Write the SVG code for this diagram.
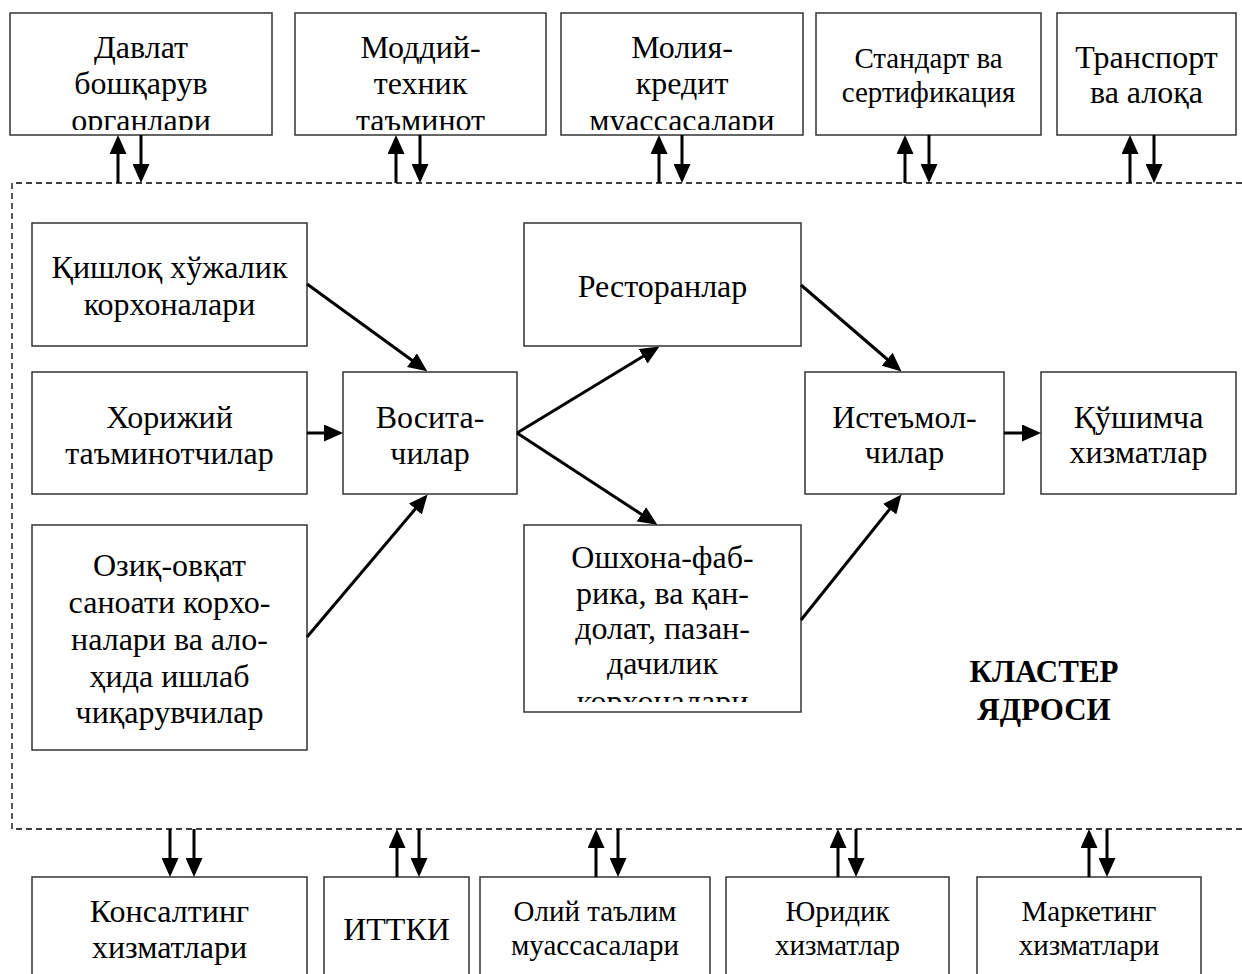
<svg xmlns="http://www.w3.org/2000/svg" width="1242" height="974" viewBox="0 0 1242 974">
  <style>
    .box { fill: #fff; stroke: #333; stroke-width: 1.5; }
    .t { font-family: "Liberation Serif", "Times New Roman", serif; font-size: 32px; text-anchor: middle; fill: #000; }
    .s { font-size: 29px; }
    .b { font-weight: bold; font-size: 31px; }
    .conn { stroke: #000; stroke-width: 3; fill: none; marker-end: url(#ah); }
    .frame { fill: none; stroke: #000; stroke-width: 1.3; stroke-dasharray: 6 4; }
  </style>
  <defs>
    <marker id="ah" markerUnits="userSpaceOnUse" markerWidth="19" markerHeight="17" refX="15" refY="8.5" orient="auto">
      <path d="M0,0 L19,8.5 L0,17 z" fill="#000"/>
    </marker>
    <clipPath id="clipTop"><rect x="0" y="13" width="1242" height="117"/></clipPath>
    <clipPath id="clipKitchen"><rect x="524" y="525" width="277" height="177"/></clipPath>
  </defs>

  <rect width="1242" height="974" fill="#fff"/>

  <!-- cluster core frame (open on the right) -->
  <path class="frame" d="M1242,183 H12 V829 H1242"/>

  <!-- top row -->
  <g id="n-davlat">
    <rect class="box" x="10" y="13" width="262" height="122"/>
    <text class="t" clip-path="url(#clipTop)"><tspan x="141" y="58">Давлат</tspan><tspan x="141" y="94">бошқарув</tspan><tspan x="141" y="131">органлари</tspan></text>
  </g>
  <g id="n-moddiy">
    <rect class="box" x="295" y="13" width="251" height="122"/>
    <text class="t" clip-path="url(#clipTop)"><tspan x="420.5" y="58">Моддий-</tspan><tspan x="420.5" y="94">техник</tspan><tspan x="420.5" y="131">таъминот</tspan></text>
  </g>
  <g id="n-moliya">
    <rect class="box" x="561" y="13" width="242" height="122"/>
    <text class="t" clip-path="url(#clipTop)"><tspan x="682" y="58">Молия-</tspan><tspan x="682" y="94">кредит</tspan><tspan x="682" y="131">муассасалари</tspan></text>
  </g>
  <g id="n-standart">
    <rect class="box" x="816" y="13" width="225" height="122"/>
    <text class="t s"><tspan x="928.5" y="68">Стандарт ва</tspan><tspan x="928.5" y="102">сертификация</tspan></text>
  </g>
  <g id="n-transport">
    <rect class="box" x="1057" y="13" width="179" height="122"/>
    <text class="t"><tspan x="1146.5" y="68">Транспорт</tspan><tspan x="1146.5" y="103">ва алоқа</tspan></text>
  </g>

  <!-- cluster core -->
  <g id="n-qishloq">
    <rect class="box" x="32" y="223" width="275" height="123"/>
    <text class="t"><tspan x="169.5" y="278">Қишлоқ хўжалик</tspan><tspan x="169.5" y="315">корхоналари</tspan></text>
  </g>
  <g id="n-xorijiy">
    <rect class="box" x="32" y="372" width="275" height="122"/>
    <text class="t"><tspan x="169.5" y="428">Хорижий</tspan><tspan x="169.5" y="464">таъминотчилар</tspan></text>
  </g>
  <g id="n-oziq">
    <rect class="box" x="32" y="525" width="275" height="225"/>
    <text class="t"><tspan x="169.5" y="576">Озиқ-овқат</tspan><tspan x="169.5" y="613">саноати корхо-</tspan><tspan x="169.5" y="650">налари ва ало-</tspan><tspan x="169.5" y="687">ҳида ишлаб</tspan><tspan x="169.5" y="723">чиқарувчилар</tspan></text>
  </g>
  <g id="n-vosita">
    <rect class="box" x="343" y="372" width="174" height="122"/>
    <text class="t"><tspan x="430" y="428">Восита-</tspan><tspan x="430" y="464">чилар</tspan></text>
  </g>
  <g id="n-restoran">
    <rect class="box" x="524" y="223" width="277" height="123"/>
    <text class="t"><tspan x="662.5" y="297">Ресторанлар</tspan></text>
  </g>
  <g id="n-oshxona">
    <rect class="box" x="524" y="525" width="277" height="187"/>
    <text class="t" clip-path="url(#clipKitchen)"><tspan x="662.5" y="568">Ошхона-фаб-</tspan><tspan x="662.5" y="604">рика, ва қан-</tspan><tspan x="662.5" y="639">долат, пазан-</tspan><tspan x="662.5" y="674">дачилик</tspan><tspan x="662.5" y="712">корхоналари</tspan></text>
  </g>
  <g id="n-isteymol">
    <rect class="box" x="805" y="372" width="199" height="122"/>
    <text class="t"><tspan x="904.5" y="428">Истеъмол-</tspan><tspan x="904.5" y="463">чилар</tspan></text>
  </g>
  <g id="n-qoshimcha">
    <rect class="box" x="1041" y="372" width="195" height="122"/>
    <text class="t"><tspan x="1138.5" y="428">Қўшимча</tspan><tspan x="1138.5" y="463">хизматлар</tspan></text>
  </g>
  <g id="n-label">
    <text class="t b"><tspan x="1044" y="682">КЛАСТЕР</tspan><tspan x="1044" y="720">ЯДРОСИ</tspan></text>
  </g>

  <!-- bottom row (boxes run past the lower edge) -->
  <g id="n-konsalting">
    <rect class="box" x="32" y="877" width="275" height="120"/>
    <text class="t"><tspan x="169.5" y="922">Консалтинг</tspan><tspan x="169.5" y="958">хизматлари</tspan></text>
  </g>
  <g id="n-ittki">
    <rect class="box" x="324" y="877" width="145" height="120"/>
    <text class="t"><tspan x="396.5" y="940">ИТТКИ</tspan></text>
  </g>
  <g id="n-oliy">
    <rect class="box" x="480" y="877" width="230" height="120"/>
    <text class="t s"><tspan x="595" y="921">Олий таълим</tspan><tspan x="595" y="955">муассасалари</tspan></text>
  </g>
  <g id="n-yuridik">
    <rect class="box" x="726" y="877" width="223" height="120"/>
    <text class="t s"><tspan x="837.5" y="921">Юридик</tspan><tspan x="837.5" y="955">хизматлар</tspan></text>
  </g>
  <g id="n-marketing">
    <rect class="box" x="977" y="877" width="224" height="120"/>
    <text class="t s"><tspan x="1089" y="921">Маркетинг</tspan><tspan x="1089" y="955">хизматлари</tspan></text>
  </g>

  <!-- connectors -->
  <g id="connectors">
    <!-- top row links -->
    <line class="conn" x1="118" y1="183" x2="118" y2="139"/>
    <line class="conn" x1="141" y1="135" x2="141" y2="179"/>
    <line class="conn" x1="396" y1="183" x2="396" y2="139"/>
    <line class="conn" x1="420" y1="135" x2="420" y2="179"/>
    <line class="conn" x1="659" y1="183" x2="659" y2="139"/>
    <line class="conn" x1="682" y1="135" x2="682" y2="179"/>
    <line class="conn" x1="905" y1="183" x2="905" y2="139"/>
    <line class="conn" x1="929" y1="135" x2="929" y2="179"/>
    <line class="conn" x1="1130" y1="183" x2="1130" y2="139"/>
    <line class="conn" x1="1154" y1="135" x2="1154" y2="179"/>

    <!-- bottom row links -->
    <line class="conn" x1="170" y1="829" x2="170" y2="873"/>
    <line class="conn" x1="194" y1="829" x2="194" y2="873"/>
    <line class="conn" x1="397" y1="877" x2="397" y2="833"/>
    <line class="conn" x1="419" y1="829" x2="419" y2="873"/>
    <line class="conn" x1="596" y1="877" x2="596" y2="833"/>
    <line class="conn" x1="618" y1="829" x2="618" y2="873"/>
    <line class="conn" x1="838" y1="877" x2="838" y2="833"/>
    <line class="conn" x1="856" y1="829" x2="856" y2="873"/>
    <line class="conn" x1="1089" y1="877" x2="1089" y2="833"/>
    <line class="conn" x1="1107" y1="829" x2="1107" y2="873"/>

    <!-- core flows -->
    <line class="conn" x1="307" y1="284" x2="424" y2="369"/>
    <line class="conn" x1="307" y1="433" x2="339" y2="433"/>
    <line class="conn" x1="307" y1="637" x2="425" y2="497.5"/>
    <line class="conn" x1="517" y1="433" x2="656" y2="348.5"/>
    <line class="conn" x1="517" y1="433" x2="654" y2="522.5"/>
    <line class="conn" x1="801" y1="285" x2="898.5" y2="369"/>
    <line class="conn" x1="801" y1="620" x2="899" y2="497.5"/>
    <line class="conn" x1="1004" y1="433" x2="1037" y2="433"/>
  </g>
</svg>
